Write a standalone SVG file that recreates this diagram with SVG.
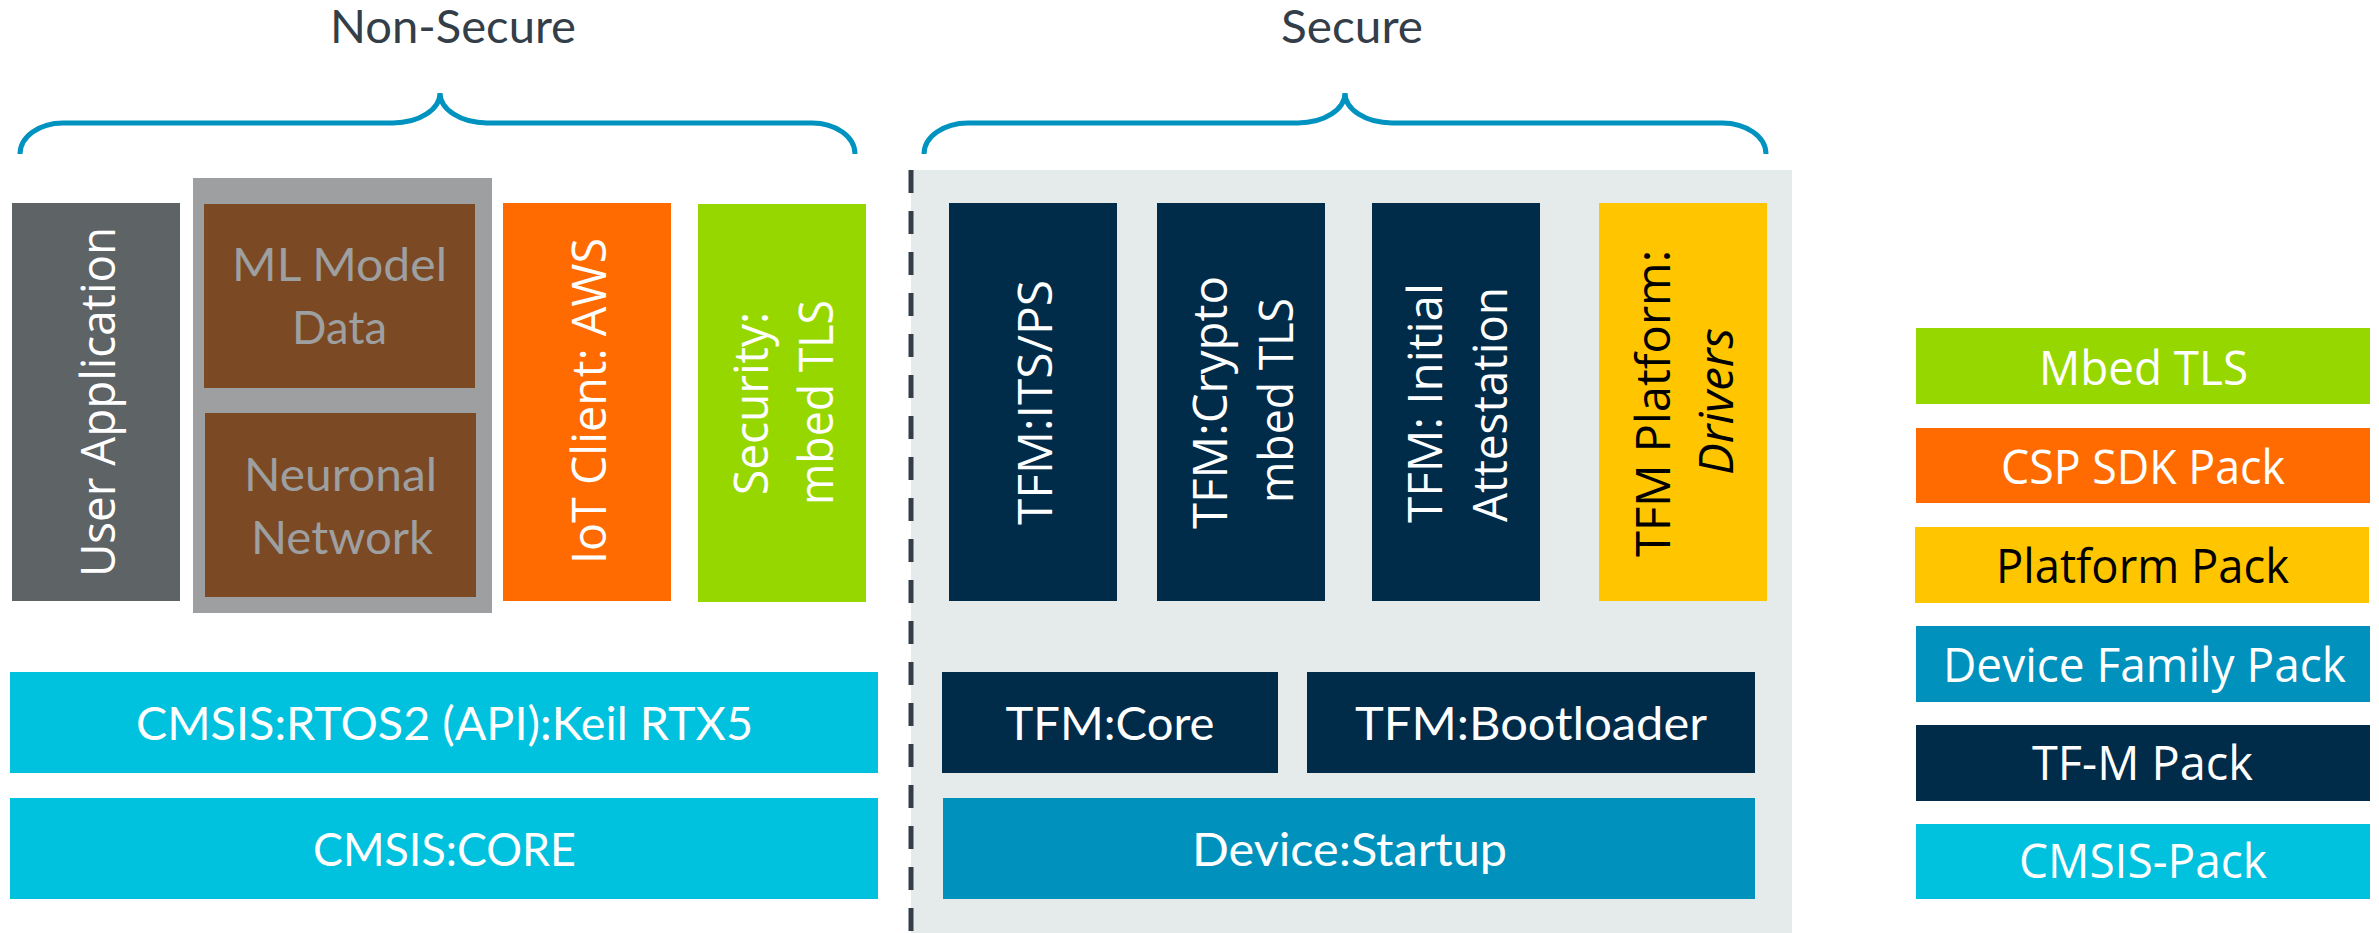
<svg xmlns="http://www.w3.org/2000/svg" width="2379" height="933" viewBox="0 0 2379 933">
<defs>
<style>
.rot{font-family:"Open Sans","Noto Sans","DejaVu Sans",sans-serif;font-size:48px;fill:#ffffff;text-anchor:middle}
.cal{font-family:Lato,"Liberation Sans",sans-serif;font-size:46px;fill:#ffffff;text-anchor:middle}
.leg{font-family:"Open Sans","Noto Sans","DejaVu Sans",sans-serif;font-size:47px;fill:#ffffff;text-anchor:middle}
.title{font-family:Lato,"Liberation Sans",sans-serif;font-weight:400;font-size:47px;fill:#333e48;text-anchor:middle}
.brace{fill:none;stroke:#0093c0;stroke-width:5;stroke-linecap:butt}
.navy{fill:#002b49}
.cyan{fill:#00c1de}
.blue{fill:#0091bd}
.orange{fill:#ff6b00}
.green{fill:#97d700}
.yellow{fill:#ffc600}
.brown{fill:#7b4a24}
.gtxt{fill:#9d9fa0}
</style>
</defs>
<rect width="2379" height="933" fill="#ffffff"/>

<g id="secure-area">
<rect x="911" y="170" width="881" height="763" fill="#e5ebeb"/>
</g>

<g id="connectors">
<path class="brace" d="M20,154 A43,31 0 0 1 63,123 L393,123 A47,30 0 0 0 440,93 A47,30 0 0 0 487,123 L812,123 A43,31 0 0 1 855,154"/>
<path class="brace" d="M924,154 A44,31 0 0 1 968,123 L1298,123 A47,30 0 0 0 1345,93 A47,30 0 0 0 1392,123 L1722,123 A44,31 0 0 1 1766,154"/>
<line x1="911" y1="170" x2="911" y2="933" stroke="#333e48" stroke-width="5" stroke-dasharray="23 18"/>
</g>

<g id="title-nonsecure"><text class="title" x="453" y="43" textLength="246" lengthAdjust="spacingAndGlyphs">Non-Secure</text></g>
<g id="title-secure"><text class="title" x="1352" y="43" textLength="142" lengthAdjust="spacingAndGlyphs">Secure</text></g>

<g id="user-application">
<rect x="12" y="203" width="168" height="398" fill="#5e6366"/>
<text class="rot" transform="translate(115,402) rotate(-90)" textLength="350" lengthAdjust="spacingAndGlyphs">User Application</text>
</g>

<g id="ml-container">
<rect x="193" y="178" width="299" height="435" fill="#9d9fa0"/>
</g>
<g id="ml-model-data">
<rect class="brown" x="204" y="204" width="271" height="184"/>
<text class="cal gtxt" x="339.5" y="281" textLength="215" lengthAdjust="spacingAndGlyphs">ML Model</text>
<text class="cal gtxt" x="339.5" y="344" textLength="95" lengthAdjust="spacingAndGlyphs">Data</text>
</g>
<g id="neuronal-network">
<rect class="brown" x="205" y="413" width="271" height="184"/>
<text class="cal gtxt" x="340.5" y="491" textLength="193" lengthAdjust="spacingAndGlyphs">Neuronal</text>
<text class="cal gtxt" x="342" y="554" textLength="182" lengthAdjust="spacingAndGlyphs">Network</text>
</g>

<g id="iot-client">
<rect class="orange" x="503" y="203" width="168" height="398"/>
<text class="rot" transform="translate(606,401) rotate(-90)" textLength="326" lengthAdjust="spacingAndGlyphs">IoT Client: AWS</text>
</g>

<g id="security-mbedtls">
<rect class="green" x="698" y="204" width="168" height="398"/>
<text class="rot" transform="translate(768,403.5) rotate(-90)" textLength="183" lengthAdjust="spacingAndGlyphs">Security:</text>
<text class="rot" transform="translate(833,402.5) rotate(-90)" textLength="205" lengthAdjust="spacingAndGlyphs">mbed TLS</text>
</g>

<g id="cmsis-rtos2">
<rect class="cyan" x="10" y="672" width="868" height="101"/>
<text class="cal" x="444.5" y="740" textLength="617" lengthAdjust="spacingAndGlyphs">CMSIS:RTOS2 (API):Keil RTX5</text>
</g>
<g id="cmsis-core">
<rect class="cyan" x="10" y="798" width="868" height="101"/>
<text class="cal" x="444.5" y="866" textLength="263" lengthAdjust="spacingAndGlyphs">CMSIS:CORE</text>
</g>

<g id="tfm-its-ps">
<rect class="navy" x="949" y="203" width="168" height="398"/>
<text class="rot" transform="translate(1052,402.5) rotate(-90)" textLength="245" lengthAdjust="spacingAndGlyphs">TFM:ITS/PS</text>
</g>
<g id="tfm-crypto">
<rect class="navy" x="1157" y="203" width="168" height="398"/>
<text class="rot" transform="translate(1227,402.5) rotate(-90)" textLength="253" lengthAdjust="spacingAndGlyphs">TFM:Crypto</text>
<text class="rot" transform="translate(1293,400.5) rotate(-90)" textLength="205" lengthAdjust="spacingAndGlyphs">mbed TLS</text>
</g>
<g id="tfm-initial-attestation">
<rect class="navy" x="1372" y="203" width="168" height="398"/>
<text class="rot" transform="translate(1442,403) rotate(-90)" textLength="240" lengthAdjust="spacingAndGlyphs">TFM: Initial</text>
<text class="rot" transform="translate(1507,404.5) rotate(-90)" textLength="235" lengthAdjust="spacingAndGlyphs">Attestation</text>
</g>
<g id="tfm-platform">
<rect class="yellow" x="1599" y="203" width="168" height="398"/>
<text class="rot" transform="translate(1670,403.5) rotate(-90)" style="fill:#000000" textLength="307" lengthAdjust="spacingAndGlyphs">TFM Platform:</text>
<text class="rot" transform="translate(1733,401.5) rotate(-90)" style="fill:#000000;font-style:italic" textLength="147" lengthAdjust="spacingAndGlyphs">Drivers</text>
</g>

<g id="tfm-core">
<rect class="navy" x="942" y="672" width="336" height="101"/>
<text class="cal" x="1110" y="740" textLength="209" lengthAdjust="spacingAndGlyphs">TFM:Core</text>
</g>
<g id="tfm-bootloader">
<rect class="navy" x="1307" y="672" width="448" height="101"/>
<text class="cal" x="1531" y="740" textLength="352" lengthAdjust="spacingAndGlyphs">TFM:Bootloader</text>
</g>
<g id="device-startup">
<rect class="blue" x="943" y="798" width="812" height="101"/>
<text class="cal" x="1349.5" y="866" textLength="315" lengthAdjust="spacingAndGlyphs">Device:Startup</text>
</g>

<g id="legend-mbedtls">
<rect class="green" x="1916" y="328" width="454" height="76"/>
<text class="leg" x="2143.5" y="385" textLength="209" lengthAdjust="spacingAndGlyphs">Mbed TLS</text>
</g>
<g id="legend-csp">
<rect class="orange" x="1916" y="428" width="454" height="75"/>
<text class="leg" x="2143" y="484" textLength="284" lengthAdjust="spacingAndGlyphs">CSP SDK Pack</text>
</g>
<g id="legend-platform">
<rect class="yellow" x="1915" y="527" width="454" height="76"/>
<text class="leg" x="2142.5" y="583" style="fill:#000000" textLength="293" lengthAdjust="spacingAndGlyphs">Platform Pack</text>
</g>
<g id="legend-dfp">
<rect class="blue" x="1916" y="626" width="454" height="76"/>
<text class="leg" x="2144.5" y="681.5" textLength="403" lengthAdjust="spacingAndGlyphs">Device Family Pack</text>
</g>
<g id="legend-tfm">
<rect class="navy" x="1916" y="725" width="454" height="76"/>
<text class="leg" x="2142.5" y="780" textLength="221" lengthAdjust="spacingAndGlyphs">TF-M Pack</text>
</g>
<g id="legend-cmsis">
<rect class="cyan" x="1916" y="824" width="454" height="75"/>
<text class="leg" x="2143" y="878" textLength="248" lengthAdjust="spacingAndGlyphs">CMSIS-Pack</text>
</g>
</svg>
